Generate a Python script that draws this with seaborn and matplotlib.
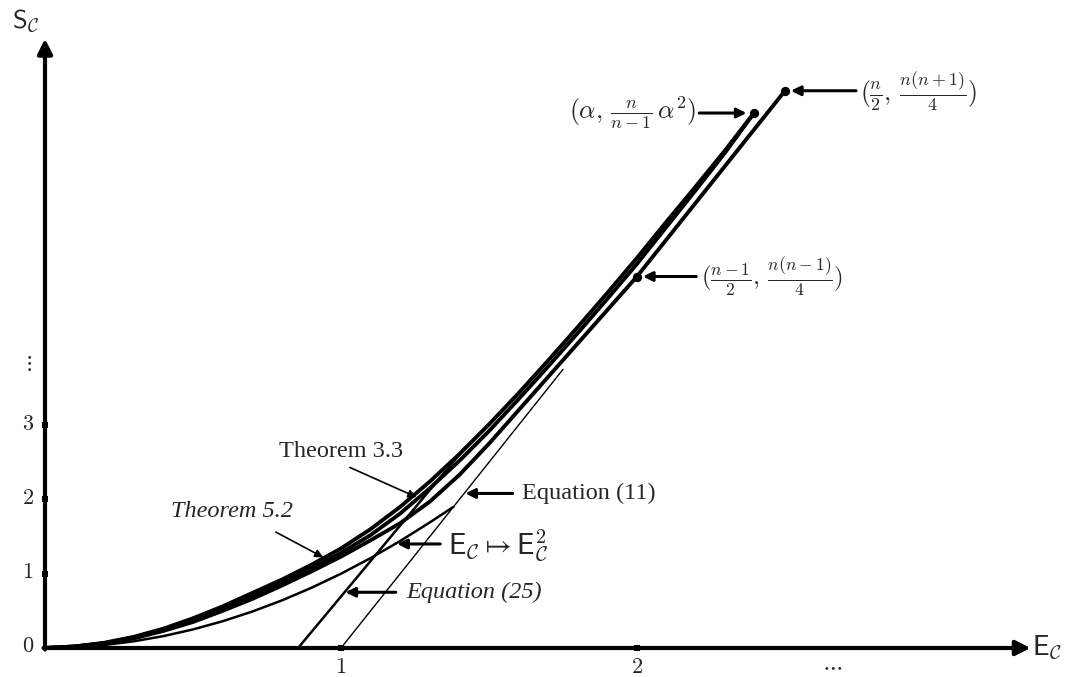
import numpy as np
import matplotlib
matplotlib.use('Agg')
import matplotlib.pyplot as plt
import seaborn as sns

# curves (x = E_C, y = S_C)
grid_x = [0, 0.1, 0.2, 0.3, 0.4, 0.5, 0.6, 0.7, 0.8, 0.9, 1.0, 1.1, 1.2,
          1.3, 1.4, 1.5, 1.6, 1.7, 1.8, 1.9, 2.0, 2.1, 2.2, 2.3, 2.395]
thm52_y = [0, 0.02, 0.07, 0.15, 0.26, 0.40, 0.56, 0.74, 0.92, 1.12, 1.34, 1.60, 1.90,
           2.24, 2.61, 3.01, 3.43, 3.87, 4.32, 4.78, 5.25, 5.74, 6.22, 6.71, 7.2]
thm33_y = [0, 0.02, 0.065, 0.14, 0.25, 0.38, 0.53, 0.70, 0.88, 1.07, 1.28, 1.52, 1.81,
           2.15, 2.52, 2.92, 3.35, 3.79, 4.24, 4.70, 5.17, 5.67, 6.17, 6.68, 7.2]
lower_x = [0, 0.1, 0.2, 0.3, 0.4, 0.5, 0.6, 0.7, 0.8, 0.9, 1.0, 1.1, 1.2,
           1.3, 1.4, 1.5, 1.6, 1.7, 1.8, 1.9, 2.0, 2.25, 2.5]
lower_y = [0, 0.02, 0.06, 0.13, 0.23, 0.35, 0.50, 0.66, 0.84, 1.03, 1.23, 1.45, 1.68,
           1.97, 2.33, 2.75, 3.20, 3.65, 4.10, 4.55, 5.0, 6.25, 7.5]
sq_x = [0, 0.1, 0.2, 0.3, 0.4, 0.5, 0.6, 0.7, 0.8, 0.9, 1.0, 1.1, 1.2, 1.3, 1.38]
sq_y = [0, 0.01, 0.04, 0.09, 0.16, 0.25, 0.36, 0.49, 0.64, 0.81, 1.0, 1.21, 1.44, 1.69, 1.9]
eq11_x = [1.0, 1.75]
eq11_y = [0.0, 3.75]
eq25_x = [0.855, 1.42]
eq25_y = [0.0, 2.7]

# marked points
dot_x = [2.395, 2.5, 2.0]
dot_y = [7.2, 7.5, 5.0]

xticks = [1, 2]
yticks = [0, 1, 2, 3]

sns.set_theme(style='white')
plt.rcParams['font.family'] = ['Liberation Serif', 'DejaVu Serif']
plt.rcParams['mathtext.fontset'] = 'cm'

fig = plt.figure(figsize=(10.71, 6.77), dpi=100)
ax = fig.add_axes([0, 0, 1, 1])
ax.set_xlim(-45 / 296, (1071 - 45) / 296)
ax.set_ylim(-(677 - 648) / 74.3, 648 / 74.3)
ax.axis('off')

# axes with arrows
ax.annotate('', xy=(3.33, 0), xytext=(-0.005, 0),
            arrowprops=dict(arrowstyle='-|>', lw=3, color='black', mutation_scale=22, shrinkA=0, shrinkB=0))
ax.annotate('', xy=(0, 8.2), xytext=(0, -0.02),
            arrowprops=dict(arrowstyle='-|>', lw=3, color='black', mutation_scale=22, shrinkA=0, shrinkB=0))

# curves
sns.lineplot(x=grid_x, y=thm52_y, sort=False, color='black', lw=2.8, ax=ax)
sns.lineplot(x=grid_x, y=thm33_y, sort=False, color='black', lw=2.8, ax=ax)
sns.lineplot(x=lower_x, y=lower_y, sort=False, color='black', lw=2.8, ax=ax)
sns.lineplot(x=sq_x, y=sq_y, sort=False, color='black', lw=1.8, ax=ax)
sns.lineplot(x=eq11_x, y=eq11_y, sort=False, color='black', lw=1.0, ax=ax)
sns.lineplot(x=eq25_x, y=eq25_y, sort=False, color='black', lw=1.8, ax=ax)
sns.scatterplot(x=dot_x, y=dot_y, color='black', s=45, linewidth=0, ax=ax, zorder=5)

# ticks
sns.scatterplot(x=xticks, y=[0] * len(xticks), color='black', s=22, marker='s', linewidth=0, ax=ax, zorder=5)
sns.scatterplot(x=[0] * (len(yticks) - 1), y=yticks[1:], color='black', s=22, marker='s', linewidth=0, ax=ax, zorder=5)
for t in xticks:
    ax.text(t, -0.27, f'${t}$', ha='center', va='center', fontsize=16)
ax.text((832 - 45) / 296, -0.27, r'$\cdots$', ha='center', va='center', fontsize=16)
for t in yticks:
    ax.text(-17 / 296, t, f'${t}$', ha='center', va='center', fontsize=16)
ax.text(-17 / 296, 3.82, r'$\vdots$', ha='center', va='center', fontsize=16)

# axis labels
ax.text(-33 / 296, 8.45, r'$\mathsf{S}_{\mathcal{C}}$', ha='left', va='center', fontsize=19)
ax.text(3.334, 0.0, r'$\mathsf{E}_{\mathcal{C}}$', ha='left', va='center', fontsize=20)

harrow = dict(arrowstyle='-|>', lw=2.2, color='black', mutation_scale=14, shrinkA=0, shrinkB=0)
tarrow = dict(arrowstyle='-|>', lw=1.2, color='black', mutation_scale=12, shrinkA=0, shrinkB=0)

# point labels
ax.annotate('', xy=(2.37, 7.2), xytext=(2.21, 7.2), arrowprops=harrow)
ax.text(2.2, 7.2, r'$(\alpha,\,\frac{n}{n-1}\,\alpha^2)$', ha='right', va='center', fontsize=18.5)
ax.annotate('', xy=(2.52, 7.5), xytext=(2.74, 7.5), arrowprops=harrow)
ax.text(2.755, 7.5, r'$(\frac{n}{2},\,\frac{n(n+1)}{4})$', ha='left', va='center', fontsize=18.5)
ax.annotate('', xy=(2.02, 5.0), xytext=(2.2, 5.0), arrowprops=harrow)
ax.text(2.215, 5.0, r'$(\frac{n-1}{2},\,\frac{n(n-1)}{4})$', ha='left', va='center', fontsize=18)

# curve labels
ax.text(1.0, 2.64, 'Theorem 3.3', ha='center', va='center', fontsize=17.5)
ax.annotate('', xy=(1.255, 2.03), xytext=(1.03, 2.43), arrowprops=tarrow)
ax.text(0.63, 1.84, 'Theorem 5.2', ha='center', va='center', fontsize=17.5, style='italic')
ax.annotate('', xy=(0.94, 1.22), xytext=(0.78, 1.56), arrowprops=tarrow)
ax.annotate('', xy=(1.42, 2.08), xytext=(1.58, 2.08), arrowprops=harrow)
ax.text(1.61, 2.08, 'Equation (11)', ha='left', va='center', fontsize=17.5)
ax.annotate('', xy=(1.19, 1.4), xytext=(1.335, 1.4), arrowprops=harrow)
ax.text(1.36, 1.38, r'$\mathsf{E}_{\mathcal{C}} \mapsto \mathsf{E}_{\mathcal{C}}^2$', ha='left', va='center', fontsize=21)
ax.annotate('', xy=(1.015, 0.75), xytext=(1.185, 0.75), arrowprops=harrow)
ax.text(1.22, 0.75, 'Equation (25)', ha='left', va='center', fontsize=17.5, style='italic')

fig.savefig('out.png', dpi=100)
